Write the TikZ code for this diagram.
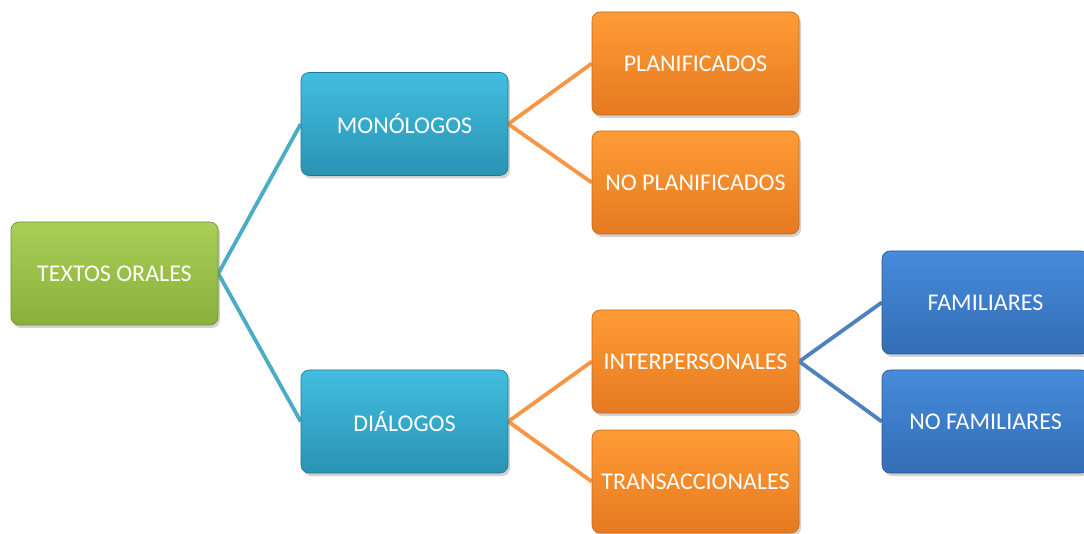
\documentclass[tikz,border=0pt]{standalone}
\usepackage{fontspec}
\setmainfont{Carlito}
\usetikzlibrary{shadows,backgrounds}
\definecolor{gtop}{HTML}{AACF57}
\definecolor{gbot}{HTML}{8AB03C}
\definecolor{ttop}{HTML}{42BEE0}
\definecolor{tbot}{HTML}{2A93B3}
\definecolor{otop}{HTML}{FF9C35}
\definecolor{obot}{HTML}{E57A22}
\definecolor{btop}{HTML}{468BDB}
\definecolor{bbot}{HTML}{336DB5}
\definecolor{lteal}{HTML}{4BACC6}
\definecolor{lorange}{HTML}{F79646}
\definecolor{lblue}{HTML}{4F81BD}
\tikzset{
  box/.style={rounded corners=8pt, minimum width=207pt, minimum height=103pt,
    inner sep=0pt, text=white, font=\fontsize{24}{28}\selectfont,
    drop shadow={shadow xshift=2pt, shadow yshift=-3pt, opacity=0.35}},
  gbox/.style={box, top color=gtop, bottom color=gbot, draw=gbot!80!black, line width=0.6pt},
  tbox/.style={box, top color=ttop, bottom color=tbot, draw=tbot!80!black, line width=0.6pt},
  obox/.style={box, top color=otop, bottom color=obot, draw=obot!85!black, line width=0.6pt},
  bbox/.style={box, top color=btop, bottom color=bbot, draw=bbot!80!black, line width=0.6pt},
  conn/.style={line width=3.8pt, line join=miter},
}
\begin{document}
\begin{tikzpicture}[x=1pt,y=-1pt]
\useasboundingbox (0,0) rectangle (1084,534);
\node[gbox] (to) at (114.5,273.5) {TEXTOS ORALES};
\node[tbox] (mo) at (404.5,124) {MONÓLOGOS};
\node[tbox] (di) at (404.5,421.5) {DIÁLOGOS};
\node[obox] (pl) at (695.5,63.5) {PLANIFICADOS};
\node[obox] (np) at (695.5,182.5) {NO PLANIFICADOS};
\node[obox] (in) at (695.5,361.5) {INTERPERSONALES};
\node[obox] (tr) at (695.5,481.5) {TRANSACCIONALES};
\node[bbox] (fa) at (985.5,302.5) {FAMILIARES};
\node[bbox] (nf) at (985.5,421.5) {NO FAMILIARES};
\begin{scope}[on background layer]
\fill[white] (0,0) rectangle (1084,534);
\draw[conn, lteal] (mo.west) -- (to.east) -- (di.west);
\draw[conn, lorange] (pl.west) -- (mo.east) -- (np.west);
\draw[conn, lorange] (in.west) -- (di.east) -- (tr.west);
\draw[conn, lblue] (fa.west) -- (in.east) -- (nf.west);
\end{scope}
\end{tikzpicture}
\end{document}
